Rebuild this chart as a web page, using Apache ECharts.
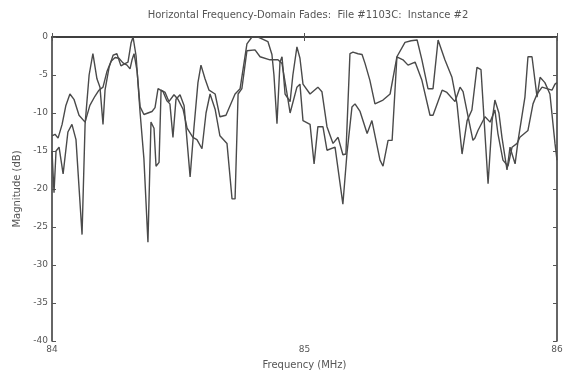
<!DOCTYPE html>
<html>
<head>
<meta charset="utf-8">
<script src="https://cdn.jsdelivr.net/npm/echarts@6/dist/echarts.min.js"></script>
<style>
  html, body { margin: 0; padding: 0; background: #fff; }
  #chart { width: 575px; height: 379px; }
</style>
</head>
<body>
<div id="chart"></div>
<script>
// frequency (MHz) and magnitude (dB) for the two traces
const freqA = [84.000, 84.012, 84.024, 84.040, 84.055, 84.071, 84.087, 84.107, 84.131, 84.150,
  84.170, 84.186, 84.202, 84.218, 84.234, 84.250, 84.265, 84.281, 84.297, 84.309,
  84.317, 84.325, 84.337, 84.349, 84.364, 84.380, 84.396, 84.408, 84.420, 84.440,
  84.455, 84.467, 84.479, 84.491, 84.507, 84.523, 84.547, 84.562, 84.578, 84.590,
  84.606, 84.622, 84.646, 84.665, 84.689, 84.725, 84.745, 84.772, 84.792, 84.816,
  84.836, 84.855, 84.871, 84.879, 84.891, 84.903, 84.911, 84.923, 84.943, 84.954,
  84.970, 84.982, 84.994, 85.022, 85.053, 85.069, 85.089, 85.113, 85.133, 85.152,
  85.164, 85.180, 85.192, 85.212, 85.228, 85.240, 85.259, 85.279, 85.311, 85.339,
  85.366, 85.398, 85.422, 85.446, 85.465, 85.489, 85.509, 85.529, 85.556, 85.584,
  85.604, 85.624, 85.644, 85.663, 85.683, 85.699, 85.727, 85.743, 85.754, 85.770,
  85.782, 85.802, 85.814, 85.834, 85.846, 85.873, 85.885, 85.901, 85.921, 85.933,
  85.952, 85.972, 85.992, 86.000];
const magA = [-13, -12.8, -13.3, -11.5, -9, -7.5, -8.2, -10.3, -11.2, -9,
  -7.8, -7, -6.6, -4.5, -3.2, -2.7, -2.8, -3.4, -3.7, -4.2,
  -3, -2.2, -4.5, -9.2, -10.2, -10, -9.8, -9.3, -6.8, -7.2,
  -8.4, -8.8, -13.2, -8.2, -7.6, -9, -18.4, -12, -6, -3.7,
  -5.5, -7, -7.5, -10.5, -10.3, -7.5, -6.8, -0.9, 0, 0,
  -0.3, -0.6, -2.3, -5, -11.4, -3.3, -2.6, -7.5, -8.5, -5,
  -1.3, -2.8, -6.2, -7.5, -6.6, -7.2, -11.8, -14, -13.2, -15.5,
  -15.4, -2.2, -2, -2.2, -2.3, -3.5, -5.7, -8.8, -8.3, -7.5,
  -2.6, -0.7, -0.5, -0.4, -3, -6.8, -6.8, -0.4, -3, -5.3,
  -8.8, -15.4, -11, -9.6, -4, -4.3, -19.3, -11, -8.3, -10,
  -13.2, -17.5, -14.5, -16.7, -13.6, -7.9, -2.6, -2.6, -7.9, -5.3,
  -6, -7.5, -14, -16.2];

const freqB = [84.000, 84.008, 84.016, 84.028, 84.044, 84.063, 84.079, 84.095, 84.119, 84.131,
  84.147, 84.162, 84.178, 84.190, 84.202, 84.210, 84.226, 84.242, 84.257, 84.273,
  84.289, 84.301, 84.313, 84.321, 84.333, 84.349, 84.364, 84.380, 84.392, 84.404,
  84.412, 84.424, 84.432, 84.448, 84.463, 84.483, 84.499, 84.519, 84.535, 84.558,
  84.574, 84.594, 84.610, 84.626, 84.646, 84.665, 84.693, 84.713, 84.725, 84.737,
  84.752, 84.772, 84.804, 84.824, 84.863, 84.895, 84.911, 84.931, 84.943, 84.970,
  84.982, 84.994, 85.022, 85.038, 85.053, 85.073, 85.089, 85.121, 85.152, 85.168,
  85.188, 85.200, 85.220, 85.248, 85.267, 85.299, 85.311, 85.331, 85.347, 85.366,
  85.390, 85.410, 85.438, 85.465, 85.497, 85.509, 85.545, 85.564, 85.596, 85.616,
  85.628, 85.648, 85.667, 85.675, 85.687, 85.715, 85.735, 85.754, 85.766, 85.786,
  85.806, 85.822, 85.842, 85.853, 85.885, 85.905, 85.921, 85.941, 85.960, 85.980,
  85.992, 86.000];
const magB = [-15, -20.5, -15, -14.5, -18, -12.5, -11.5, -13.5, -26, -11.5,
  -5, -2.2, -5.5, -6.6, -11.5, -7, -4, -2.4, -2.2, -3.8,
  -3.5, -3.3, -0.8, 0, -2.5, -10, -16, -27, -11.2, -12,
  -17, -16.5, -7, -7.3, -8.5, -7.6, -8.2, -9.5, -12, -13.2,
  -13.5, -14.7, -10, -7.5, -9.5, -13, -14, -21.3, -21.3, -7.5,
  -6.8, -1.8, -1.7, -2.6, -3, -3, -3.5, -7.5, -10, -6.6,
  -6.2, -11, -11.5, -16.7, -11.8, -11.8, -14.9, -14.5, -22, -15.4,
  -9.2, -8.8, -9.8, -12.7, -11, -16.2, -17, -13.6, -13.6, -2.6,
  -3, -3.7, -3.3, -5.7, -10.3, -10.3, -7, -7.3, -8.5, -6.6,
  -7.2, -10.5, -13.6, -13.3, -12.3, -10.5, -11.2, -9.6, -12.7, -16.2,
  -17, -14.5, -14, -13.2, -12.3, -8.8, -7.5, -6.6, -6.8, -7,
  -6.2, -6];

const xTicks = [84, 85, 86];
const yTicks = [0, -5, -10, -15, -20, -25, -30, -35, -40];

const pair = (f, m) => f.map((v, i) => [v, m[i]]);

const ink = '#4a4a4a';
const chart = echarts.init(document.getElementById('chart'));

const tickOnly = {
  axisLine: { show: true, lineStyle: { color: '#333', width: 1.5 } },
  axisTick: { show: true, inside: true, length: 4, lineStyle: { color: '#555' } },
  axisLabel: { show: false },
  splitLine: { show: false }
};

chart.setOption({
  animation: false,
  backgroundColor: '#fff',
  textStyle: { fontFamily: 'DejaVu Sans', color: ink },
  title: {
    text: 'Horizontal Frequency-Domain Fades:  File #1103C:  Instance #2',
    left: 303, top: 5, textAlign: 'center',
    textStyle: { fontSize: 10, fontWeight: 'normal', color: '#555' }
  },
  grid: { left: 52, right: 18, top: 37, bottom: 38 },
  xAxis: [{
    type: 'value', min: 84, max: 86, interval: 1,
    name: 'Frequency (MHz)', nameLocation: 'middle', nameGap: 19,
    nameTextStyle: { fontSize: 10, color: '#555' },
    axisLine: { show: true, lineStyle: { color: '#333', width: 1.5 } },
    axisTick: { show: true, inside: true, length: 4, lineStyle: { color: '#555' } },
    axisLabel: { fontSize: 9, color: '#555', margin: 4,
      formatter: v => xTicks.includes(v) ? String(v) : '' },
    splitLine: { show: false }
  }, Object.assign({ type: 'value', min: 84, max: 86, interval: 1, position: 'top' }, tickOnly)],
  yAxis: [{
    type: 'value', min: -40, max: 0, interval: 5,
    name: 'Magnitude (dB)', nameLocation: 'middle', nameGap: 28,
    nameTextStyle: { fontSize: 10, color: '#555' },
    axisLine: { show: true, lineStyle: { color: '#333', width: 1.5 } },
    axisTick: { show: true, inside: true, length: 4, lineStyle: { color: '#555' } },
    axisLabel: { fontSize: 9, color: '#555', margin: 4,
      formatter: v => yTicks.includes(v) ? String(v) : '' },
    splitLine: { show: false }
  }, Object.assign({ type: 'value', min: -40, max: 0, interval: 5, position: 'right' }, tickOnly)],
  series: [
    { type: 'line', data: pair(freqA, magA), showSymbol: false,
      lineStyle: { color: ink, width: 1.4 } },
    { type: 'line', data: pair(freqB, magB), showSymbol: false,
      lineStyle: { color: ink, width: 1.4 } }
  ]
});
</script>
</body>
</html>
